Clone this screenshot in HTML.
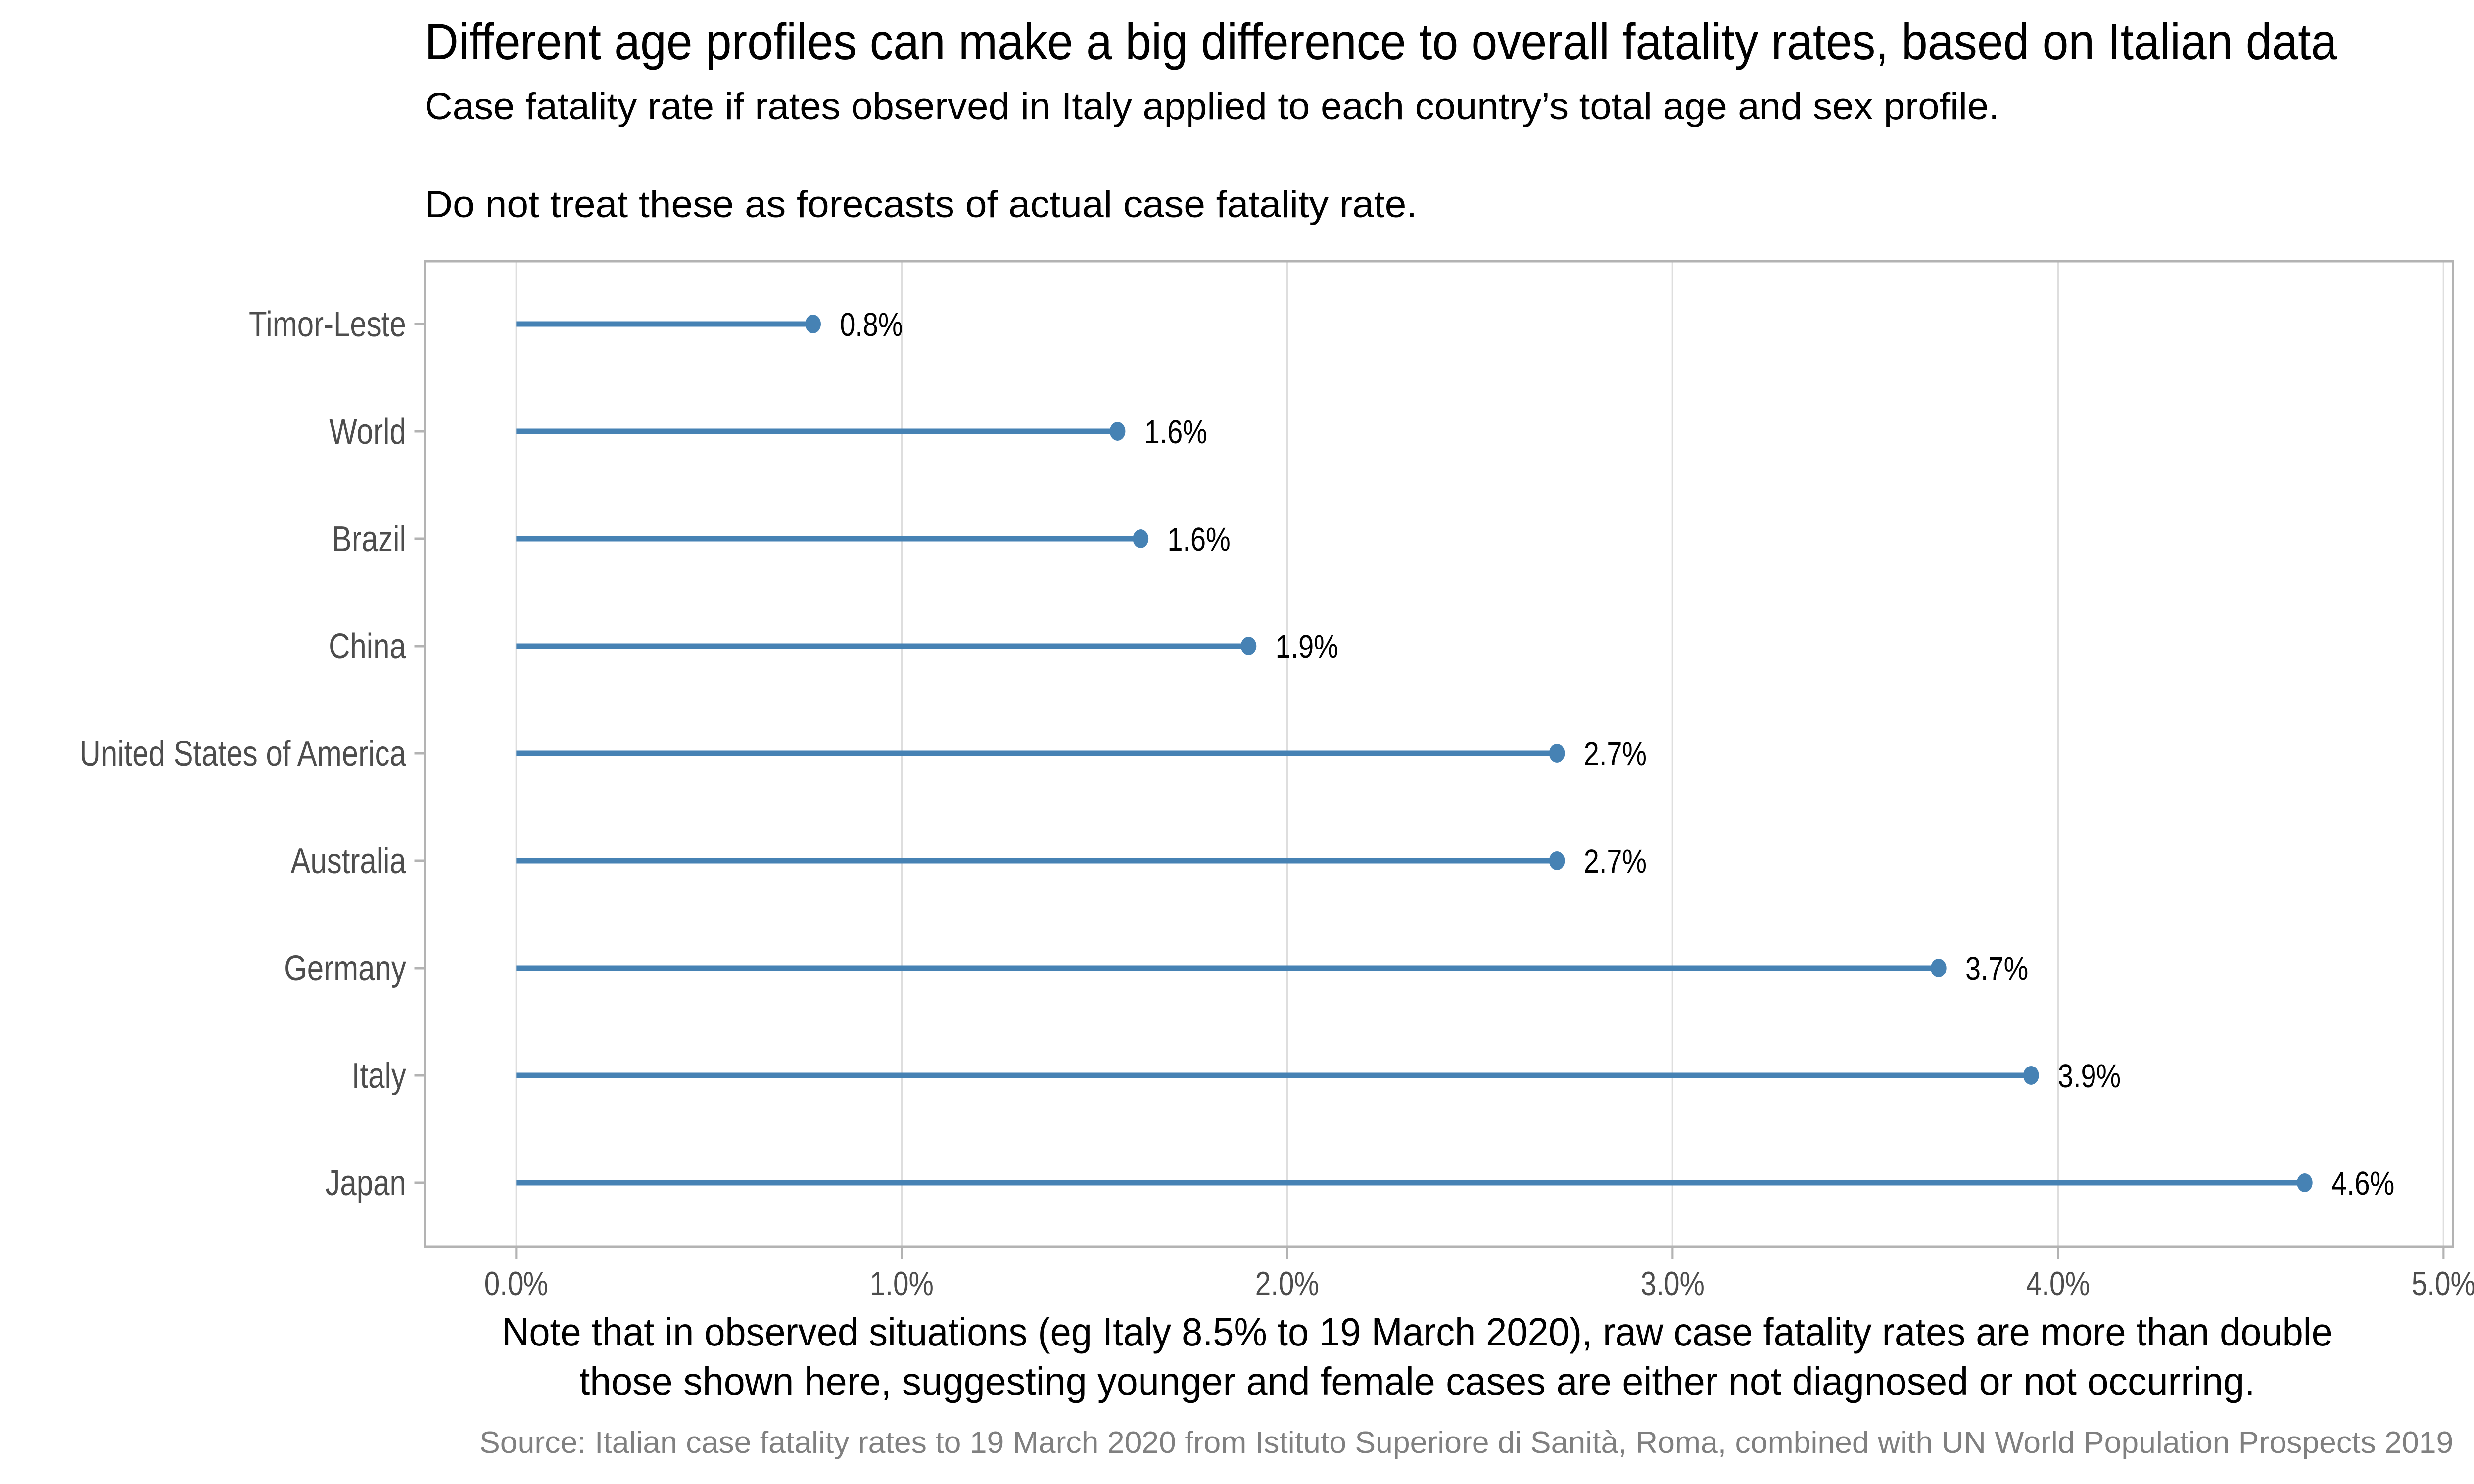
<!DOCTYPE html>
<html><head><meta charset="utf-8"><style>
html,body{margin:0;padding:0;background:#fff;width:100%;height:100%;overflow:hidden;}
svg{display:block;font-family:"Liberation Sans",sans-serif;width:100vw;height:100vh;}
</style></head><body>
<svg id="chart" viewBox="0 0 6000 3000" preserveAspectRatio="none" xmlns="http://www.w3.org/2000/svg">
<text x="1030" y="120" font-size="104" fill="#000" textLength="4638" lengthAdjust="spacingAndGlyphs">Different age profiles can make a big difference to overall fatality rates, based on Italian data</text>
<text x="1030" y="241" font-size="76" fill="#000" textLength="3819" lengthAdjust="spacingAndGlyphs">Case fatality rate if rates observed in Italy applied to each country’s total age and sex profile.</text>
<text x="1030" y="439" font-size="76" fill="#000" textLength="2407" lengthAdjust="spacingAndGlyphs">Do not treat these as forecasts of actual case fatality rate.</text>
<g id="grid"></g>
<rect x="1030" y="528" width="4919" height="1992" fill="none" stroke="#b3b3b3" stroke-width="5"/>
<g id="marks"></g>
<g id="axes"></g>
<text x="3437" y="2720" font-size="80" fill="#000" text-anchor="middle" textLength="4439" lengthAdjust="spacingAndGlyphs">Note that in observed situations (eg Italy 8.5% to 19 March 2020), raw case fatality rates are more than double</text>
<text x="3437" y="2820" font-size="80" fill="#000" text-anchor="middle" textLength="4064" lengthAdjust="spacingAndGlyphs">those shown here, suggesting younger and female cases are either not diagnosed or not occurring.</text>
<text x="5950" y="2937" font-size="62" fill="#808080" text-anchor="end" textLength="4787" lengthAdjust="spacingAndGlyphs">Source: Italian case fatality rates to 19 March 2020 from Istituto Superiore di Sanità, Roma, combined with UN World Population Prospects 2019</text>
</svg>
<script>
const countries = ["Timor-Leste","World","Brazil","China","United States of America","Australia","Germany","Italy","Japan"];
const rates = [0.77, 1.56, 1.62, 1.90, 2.70, 2.70, 3.69, 3.93, 4.64];
const rateLabels = ["0.8%","1.6%","1.6%","1.9%","2.7%","2.7%","3.7%","3.9%","4.6%"];
const xTicks = [0,1,2,3,4,5];
const xTickLabels = ["0.0%","1.0%","2.0%","3.0%","4.0%","5.0%"];

const NS="http://www.w3.org/2000/svg";
const X0=1252, PX=934.8;
function xs(v){return X0+v*PX;}
function ys(i){return 655+i*217;}
function mk(tag,attrs,parent){const e=document.createElementNS(NS,tag);for(const k in attrs)e.setAttribute(k,attrs[k]);parent.appendChild(e);return e;}
const grid=document.getElementById('grid'),marks=document.getElementById('marks'),axes=document.getElementById('axes');
xTicks.forEach((t,i)=>{
  const g=mk('line',{x1:xs(t),x2:xs(t),y1:528,y2:2520,stroke:'#dedede','stroke-width':4},grid);
  
  
  const tk=mk('line',{x1:xs(t),x2:xs(t),y1:2520,y2:2545,stroke:'#b3b3b3','stroke-width':5},axes);
  
  
  const tl=mk('text',{x:xs(t),y:2618,'font-size':68,fill:'#4d4d4d','text-anchor':'middle'},axes);
  tl.textContent=xTickLabels[i];
  
  
});
countries.forEach((c,i)=>{
  const y=ys(i);
  const tk=mk('line',{x1:1005,x2:1030,y1:y,y2:y,stroke:'#b3b3b3','stroke-width':5},axes);
  
  
  const yl=mk('text',{x:985,y:y+25,'font-size':72,fill:'#4d4d4d','text-anchor':'end'},axes);
  yl.textContent=c;
  
  
  const ln=mk('line',{x1:xs(0),x2:xs(rates[i]),y1:y,y2:y,stroke:'#4682b4','stroke-width':11},marks);
  
  
  const pt=mk('circle',{cx:xs(rates[i]),cy:y,r:19,fill:'#4682b4'},marks);
  
  
  const vl=mk('text',{x:xs(rates[i])+65,y:y+24,'font-size':67,fill:'#000'},marks);
  vl.textContent=rateLabels[i];
  
  
});
</script>
</body></html>
